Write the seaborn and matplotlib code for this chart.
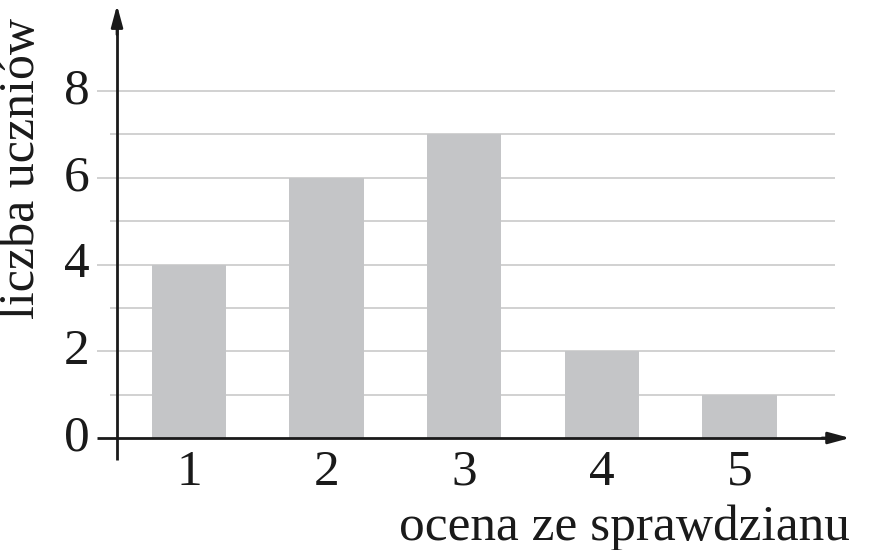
import matplotlib
matplotlib.use("Agg")
import matplotlib.pyplot as plt
import seaborn as sns

grades = [1, 2, 3, 4, 5]
counts = [4, 6, 7, 2, 1]
y_ticks = [0, 2, 4, 6, 8]
x_label = "ocena ze sprawdzianu"
y_label = "liczba uczniów"

sns.set_style("white")
plt.rcParams["font.family"] = ["Liberation Serif", "DejaVu Serif"]

fig = plt.figure(figsize=(8.95, 5.5), dpi=100)
ax = fig.add_axes([0, 0, 1, 1])

# pixel layout -> data coords: bar spacing 137.6 px, one unit up 43.4 px
xlim = (-0.3735, 6.131)
ylim = (-2.582, 10.098)

grid_c = "#c9c9c9"
for v in range(1, 9):
    x0 = 0.331 if v % 2 == 0 else 0.426
    ax.hlines(v, x0, 5.695, color=grid_c, lw=1.2, zorder=0)

sns.barplot(x=grades, y=counts, native_scale=True, width=0.54,
            color="#c4c5c7", saturation=1, linewidth=0, ax=ax, zorder=2)
ax.set_xlim(*xlim)
ax.set_ylim(*ylim)
ax.axis("off")

# axes with arrow heads
ink = "#1a1a1a"
ax.hlines(0, 0.331, 5.70, color=ink, lw=2.0, zorder=3)
ax.annotate("", xy=(5.804, 0), xytext=(5.60, 0),
            arrowprops=dict(arrowstyle="-|>,head_length=1.3,head_width=0.35",
                            color=ink, lw=2.0, shrinkA=0, shrinkB=0),
            zorder=3)
ax.vlines(0.477, -0.507, 9.5, color=ink, lw=2.0, zorder=3)
ax.annotate("", xy=(0.477, 9.98), xytext=(0.477, 9.3),
            arrowprops=dict(arrowstyle="-|>,head_length=1.3,head_width=0.35",
                            color=ink, lw=2.0, shrinkA=0, shrinkB=0),
            zorder=3)

fs = 37
for v in y_ticks:
    ax.text(0.28, v, str(v), ha="right", va="center", fontsize=fs, color=ink)
for g in grades:
    ax.text(g, -0.80, str(g), ha="center", va="center", fontsize=fs, color=ink)

ax.text(5.80, -2.07, x_label, ha="right", va="center", fontsize=fs, color=ink)
ax.text(-0.215, 6.22, y_label, ha="center", va="center", rotation=90,
        fontsize=36, color=ink)

fig.savefig("out.png", dpi=100)
